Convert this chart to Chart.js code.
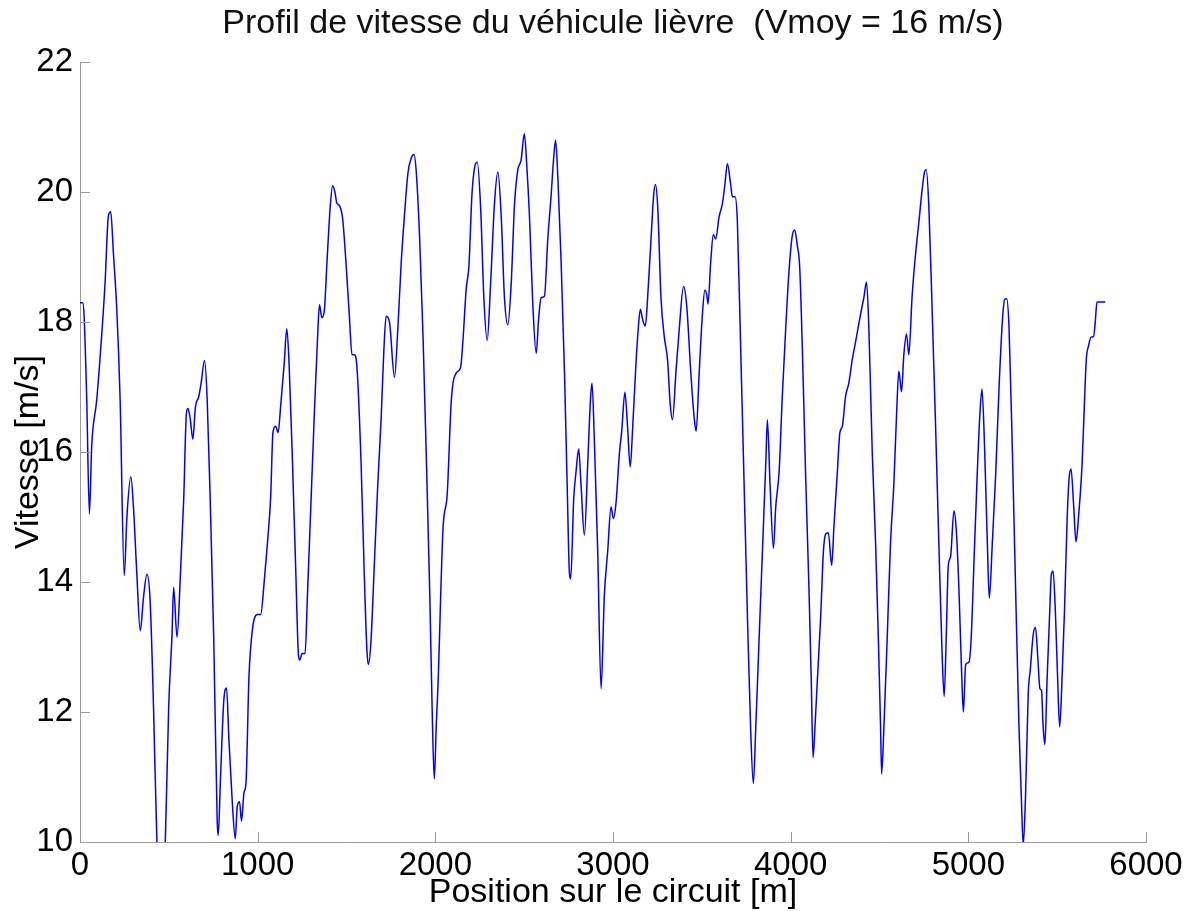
<!DOCTYPE html>
<html>
<head>
<meta charset="utf-8">
<title>Profil de vitesse</title>
<script src="https://cdn.jsdelivr.net/npm/chart.js@4/dist/chart.umd.min.js"></script>
<style>
  html, body { margin: 0; padding: 0; background: #fff; }
  #wrap { width: 1192px; height: 911px; }
</style>
</head>
<body>
<div id="wrap"><canvas id="chart" width="1192" height="911"></canvas></div>
<script>
'use strict';

// position along the track [m]
let positions = [
  0, 15, 23, 38, 53, 66, 94, 122, 141, 160, 173, 188, 207, 226, 249, 264, 286, 301, 320, 339,
  358, 377, 395, 414, 433, 450, 465, 480, 499, 518, 527, 546, 565, 584, 599, 608, 621, 635, 650, 669,
  682, 701, 716, 734, 753, 772, 778, 791, 810, 825, 838, 857, 874, 885, 898, 909, 923, 934, 951, 970,
  998, 1017, 1036, 1055, 1073, 1086, 1101, 1115, 1130, 1149, 1164, 1177, 1196, 1215, 1228, 1237, 1250, 1267, 1280, 1299,
  1318, 1337, 1348, 1361, 1375, 1390, 1409, 1422, 1435, 1446, 1459, 1478, 1497, 1516, 1531, 1544, 1559, 1582, 1600, 1615,
  1623, 1638, 1657, 1676, 1695, 1710, 1723, 1742, 1770, 1789, 1808, 1827, 1846, 1865, 1880, 1893, 1912, 1931, 1950, 1969,
  1982, 1994, 2006, 2015, 2043, 2067, 2090, 2118, 2142, 2155, 2174, 2189, 2206, 2221, 2236, 2255, 2273, 2292, 2311, 2333,
  2352, 2371, 2389, 2408, 2427, 2446, 2464, 2483, 2501, 2515, 2530, 2549, 2568, 2581, 2596, 2614, 2633, 2652, 2668, 2677,
  2690, 2708, 2727, 2742, 2755, 2762, 2779, 2792, 2807, 2820, 2839, 2858, 2873, 2882, 2895, 2914, 2933, 2951, 2970, 2989,
  3002, 3017, 3036, 3049, 3067, 3082, 3097, 3111, 3129, 3142, 3154, 3167, 3182, 3195, 3214, 3229, 3239, 3252, 3270, 3289,
  3307, 3322, 3335, 3354, 3373, 3397, 3415, 3438, 3457, 3468, 3485, 3503, 3517, 3528, 3535, 3550, 3565, 3578, 3597, 3616,
  3629, 3644, 3663, 3672, 3687, 3700, 3719, 3738, 3757, 3775, 3790, 3803, 3822, 3841, 3860, 3869, 3884, 3903, 3916, 3935,
  3953, 3972, 3991, 4009, 4023, 4037, 4051, 4066, 4084, 4103, 4116, 4126, 4137, 4150, 4169, 4184, 4197, 4212, 4231, 4244,
  4262, 4277, 4291, 4309, 4328, 4347, 4366, 4394, 4412, 4427, 4440, 4459, 4478, 4493, 4506, 4512, 4525, 4544, 4562, 4581,
  4596, 4609, 4624, 4637, 4652, 4665, 4684, 4703, 4722, 4740, 4754, 4763, 4778, 4797, 4816, 4834, 4853, 4864, 4876, 4887,
  4900, 4919, 4932, 4947, 4962, 4972, 4985, 5004, 5017, 5031, 5050, 5065, 5077, 5092, 5107, 5118, 5135, 5154, 5173, 5191,
  5204, 5216, 5229, 5248, 5266, 5285, 5298, 5309, 5322, 5337, 5350, 5365, 5378, 5391, 5403, 5412, 5421, 5431, 5443, 5458,
  5467, 5477, 5490, 5503, 5514, 5527, 5541, 5556, 5567, 5578, 5593, 5606, 5621, 5640, 5653, 5664, 5677, 5690, 5705, 5714,
  5724, 5771
];

// speed of the lead vehicle [m/s]
let vitesses = [
  18.3, 18.3, 18.1, 16.8, 15.05, 16.1, 16.8, 17.8, 18.6, 19.64, 19.7, 19.06, 18.2, 16.8, 14.1, 15.0, 15.62, 15.15, 14.12, 13.25,
  13.78, 14.12, 13.7, 12.06, 10.0, 9.5, 9.5, 10.0, 12.06, 13.2, 13.92, 13.15, 14.1, 15.3, 16.6, 16.67, 16.5, 16.2, 16.7, 16.86,
  17.07, 17.41, 16.8, 15.15, 13.1, 10.35, 10.1, 11.0, 12.2, 12.37, 11.58, 10.62, 10.05, 10.55, 10.62, 10.32, 10.76, 10.9, 12.54, 13.26,
  13.5, 13.5, 13.98, 14.6, 15.3, 16.3, 16.4, 16.3, 16.73, 17.35, 17.9, 17.35, 15.84, 14.12, 12.95, 12.8, 12.9, 12.9, 13.78, 15.15,
  16.52, 17.76, 18.27, 18.07, 18.17, 18.92, 19.8, 20.1, 20.0, 19.83, 19.8, 19.6, 18.92, 18.1, 17.5, 17.5, 17.3, 15.84, 14.12, 12.95,
  12.73, 13.1, 14.3, 15.5, 16.52, 17.55, 18.09, 18.0, 17.15, 17.9, 18.92, 19.67, 20.3, 20.53, 20.58, 20.3, 19.27, 17.76, 15.84, 13.78,
  12.06, 10.97, 11.85, 12.41, 14.81, 15.36, 16.8, 17.22, 17.3, 17.7, 18.52, 18.86, 19.96, 20.38, 20.46, 19.76, 18.38, 17.72, 18.59, 19.83,
  20.31, 19.62, 18.38, 17.96, 18.59, 19.83, 20.34, 20.5, 20.9, 20.4, 19.62, 18.25, 17.52, 18.04, 18.38, 18.4, 19.28, 19.96, 20.6, 20.8,
  20.2, 18.93, 17.22, 15.5, 14.13, 14.05, 15.29, 15.7, 16.05, 15.5, 14.72, 15.84, 16.8, 17.06, 16.19, 14.47, 12.36, 13.78, 14.47, 15.16,
  14.98, 15.22, 15.98, 16.32, 16.92, 16.39, 15.77, 16.39, 17.35, 17.9, 18.2, 18.04, 17.94, 18.38, 19.28, 19.96, 20.12, 19.76, 18.38, 17.77,
  17.42, 16.74, 16.5, 17.22, 17.9, 18.55, 18.25, 17.22, 16.53, 16.32, 17.22, 18.11, 18.49, 18.42, 18.28, 18.93, 19.35, 19.28, 19.62, 19.83,
  20.1, 20.44, 20.1, 19.93, 19.93, 19.55, 17.56, 15.5, 13.44, 11.72, 10.9, 11.72, 13.1, 14.47, 15.84, 16.5, 15.5, 14.52, 15.16, 15.7,
  16.87, 17.9, 18.8, 19.33, 19.42, 19.19, 18.84, 17.57, 15.66, 13.9, 12.48, 11.3, 11.78, 12.48, 13.47, 14.46, 14.74, 14.76, 14.26, 14.88,
  15.66, 16.3, 16.4, 16.86, 17.07, 17.43, 17.71, 18.13, 18.38, 18.62, 17.92, 16.01, 14.6, 13.19, 11.78, 11.05, 11.78, 13.19, 14.6, 15.52,
  16.58, 17.25, 16.93, 17.5, 17.82, 17.5, 18.42, 19.05, 19.55, 20.04, 20.32, 20.35, 19.76, 18.13, 16.37, 14.6, 12.84, 12.24, 13.19, 14.25,
  14.39, 15.1, 14.81, 13.9, 12.62, 12.0, 12.73, 12.77, 13.19, 14.25, 15.66, 16.58, 16.97, 16.02, 14.6, 13.75, 14.6, 15.66, 17.0, 17.99,
  18.35, 18.36, 17.92, 16.01, 13.9, 11.78, 10.72, 9.95, 10.72, 12.27, 12.69, 13.19, 13.3, 12.84, 12.36, 12.33, 11.78, 11.5, 12.48, 13.54,
  14.11, 14.17, 13.54, 12.48, 11.77, 12.48, 13.54, 14.96, 15.59, 15.74, 15.17, 14.62, 15.03, 15.8, 16.72, 17.43, 17.64, 17.77, 17.78, 17.99,
  18.31, 18.31
];

let xTicks = [0, 1000, 2000, 3000, 4000, 5000, 6000];
let yTicks = [10, 12, 14, 16, 18, 20, 22];

let points = [];
for (let i = 0; i < positions.length; i++) {
  points.push({x: positions[i], y: vitesses[i]});
}

let axisGray = '#9a9a9a';
let fontName = '"Liberation Sans", Arial, Helvetica, sans-serif';

// matlab style ticks pointing into the plot
let inwardTicks = {
  id: 'inwardTicks',
  afterDraw(chart) {
    let ctx = chart.ctx;
    let area = chart.chartArea;
    let xs = chart.scales.x;
    let ys = chart.scales.y;
    ctx.save();
    ctx.strokeStyle = axisGray;
    ctx.lineWidth = 1;
    ctx.beginPath();
    xs.ticks.forEach(function (t) {
      let px = Math.round(xs.getPixelForValue(t.value)) + 0.5;
      ctx.moveTo(px, area.bottom);
      ctx.lineTo(px, area.bottom - 10);
    });
    ys.ticks.forEach(function (t) {
      let py = Math.round(ys.getPixelForValue(t.value)) + 0.5;
      ctx.moveTo(area.left, py);
      ctx.lineTo(area.left + 10, py);
    });
    ctx.stroke();
    ctx.restore();
  }
};

let ctx = document.getElementById('chart').getContext('2d');
let myChart = new Chart(ctx, {
  type: 'line',
  data: {
    datasets: [{
      label: 'Vitesse',
      data: points,
      borderColor: '#0000ff',
      borderWidth: 1.5,
      pointRadius: 0,
      fill: false,
      cubicInterpolationMode: 'monotone'
    }]
  },
  options: {
    responsive: false,
    animation: false,
    layout: { padding: { left: 0, right: 46, top: 0, bottom: 0 } },
    plugins: {
      legend: { display: false },
      tooltip: { enabled: false },
      title: {
        display: true,
        fullSize: false,
        text: 'Profil de vitesse du véhicule lièvre  (Vmoy = 16 m/s)',
        color: '#111',
        font: { family: fontName, size: 34, weight: 'normal' },
        padding: { top: 3, bottom: 18.5 }
      }
    },
    scales: {
      x: {
        type: 'linear',
        min: 0,
        max: 6000,
        afterFit: function (scale) { scale.height = 69; },
        afterBuildTicks: function (scale) { scale.ticks = xTicks.map(v => ({value: v})); },
        grid: { display: true, drawOnChartArea: false, drawTicks: false, color: 'rgba(0,0,0,0)' },
        border: { display: true, color: axisGray, width: 1 },
        ticks: {
          color: '#000',
          padding: 4,
          maxRotation: 0,
          font: { family: fontName, size: 33 },
          callback: function (value) { return String(value); }
        },
        title: {
          display: true,
          text: 'Position sur le circuit [m]',
          color: '#000',
          font: { family: fontName, size: 34 },
          padding: { top: 0, bottom: -2 }
        }
      },
      y: {
        type: 'linear',
        min: 10,
        max: 22,
        afterFit: function (scale) { scale.width = 80; },
        afterBuildTicks: function (scale) { scale.ticks = yTicks.map(v => ({value: v})); },
        grid: { display: true, drawOnChartArea: false, drawTicks: false, color: 'rgba(0,0,0,0)' },
        border: { display: true, color: axisGray, width: 1 },
        ticks: {
          color: '#000',
          padding: 7,
          font: { family: fontName, size: 33 }
        },
        title: {
          display: true,
          text: 'Vitesse [m/s]',
          color: '#000',
          font: { family: fontName, size: 34 },
          padding: { top: 8, bottom: 0 }
        }
      }
    }
  },
  plugins: [inwardTicks]
});
</script>
</body>
</html>
